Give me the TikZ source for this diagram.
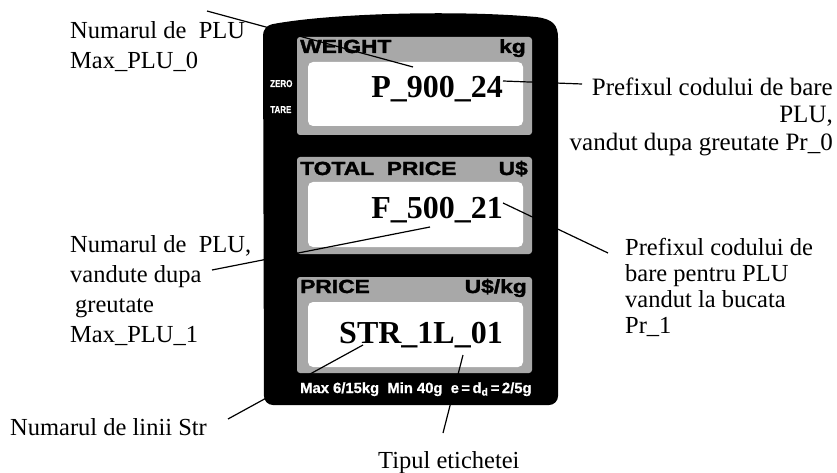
\documentclass[tikz,border=0pt]{standalone}
\usepackage{fontspec}
\setmainfont{Liberation Serif}
\newfontfamily\hdr{Liberation Sans Bold}[FakeBold=1.6]
\newfontfamily\hdrs{Liberation Sans Bold}[FakeBold=0.8]
\begin{document}
\begin{tikzpicture}[x=1pt,y=-1pt,
  lbl/.style={inner sep=0pt, font=\fontsize{24.5}{30}\selectfont},
  big/.style={inner sep=0pt, font=\fontsize{32}{36}\selectfont\bfseries},
  head/.style={inner sep=0pt, font=\hdr\fontsize{19}{20}\selectfont},
  tiny/.style={inner sep=0pt, text=white, font=\hdrs\fontsize{10}{10}\selectfont},
  conn/.style={line width=1.2pt, black},
  panel/.style={fill=black!34, rounded corners=3pt},
  screen/.style={fill=white, rounded corners=5pt}]
\useasboundingbox (0,0) rectangle (837,473);
% body
\fill[black] (263,26) .. controls (330,13) and (460,10) .. (536,17)
  .. controls (553,19) and (558,25) .. (558,38)
  [rounded corners=9pt] -- (558,405) -- (264,405) -- cycle;
% panels
\fill[panel] (297,37) rectangle (532,135);
\fill[screen] (308,62) rectangle (523,126);
\fill[panel] (297,157) rectangle (532,254);
\fill[screen] (308,182) rectangle (523,247);
\fill[panel] (297,277) rectangle (532,373);
\fill[screen] (308,302) rectangle (523,367);
% headers
\node[head, anchor=base west] (h1) at (300,53) {\scalebox{1.2}[1]{WEIGHT}};
\node[head, anchor=base east] (u1) at (526,53) {\scalebox{1.2}[1]{kg}};
\node[head, anchor=base west] (h2) at (300,175) {\scalebox{1.2}[1]{TOTAL\ \ PRICE}};
\node[head, anchor=base east] (u2) at (528,175) {\scalebox{1.2}[1]{U\$}};
\node[head, anchor=base west] (h3) at (300,293) {\scalebox{1.2}[1]{PRICE}};
\node[head, anchor=base east] (u3) at (527,293) {\scalebox{1.2}[1]{U\$/kg}};
% values
\node[big, anchor=base east] (v1) at (503,98) {P\_900\_24};
\node[big, anchor=base east] (v2) at (503,218) {F\_500\_21};
\node[big, anchor=base east] (v3) at (503,343) {STR\_1L\_01};
% labels
\node[lbl, anchor=north west, align=left] (l1) at (70,17) {\strut Numarul de\ \ PLU\\Max\_PLU\_0};
\node[lbl, anchor=north east, align=right, font=\fontsize{25}{27.5}\selectfont] (l2) at (833,75.75)
  {\strut Prefixul codului de bare\\PLU,\\vandut dupa greutate Pr\_0};
\node[lbl, anchor=north west, align=left, font=\fontsize{24.5}{26}\selectfont] (l3) at (625,236.8)
  {\strut Prefixul codului de\\bare pentru PLU\\vandut la bucata\\Pr\_1};
\node[lbl, anchor=north west, align=left] (l4) at (70,231)
  {\strut Numarul de\ \ PLU,\\vandute dupa\\\hspace{5pt}greutate\\Max\_PLU\_1};
\node[lbl, anchor=base west] (l5) at (10,435) {Numarul de linii Str};
\node[lbl, anchor=base west] (l6) at (378,468) {Tipul etichetei};
% connector ends
\coordinate (a1) at (207,11);   \coordinate (b1) at (413,67);
\coordinate (a2) at (582,84);   \coordinate (b2) at (503,81);
\coordinate (a3) at (608,253);  \coordinate (b3) at (503,203);
\coordinate (a4) at (212,270);  \coordinate (b4) at (430,227);
\coordinate (a5) at (228,419);  \coordinate (b5) at (363,345);
\coordinate (a6) at (443,433);  \coordinate (b6) at (463,355);
\draw[conn] (a1) -- (b1);
\draw[conn] (a2) -- (b2);
\draw[conn] (a3) -- (b3);
\draw[conn] (a4) -- (b4);
\draw[conn] (a5) -- (b5);
\draw[conn] (a6) -- (b6);
% white texts on the black body (drawn above the connectors)
\node[tiny, anchor=base west] (zero) at (270,87) {\scalebox{0.8}[1]{ZERO}};
\node[tiny, anchor=base west] (tare) at (270,113) {\scalebox{0.8}[1]{TARE}};
\node[inner sep=0pt, anchor=base west, text=white, font=\hdrs\fontsize{14.8}{16}\selectfont] (spec) at (300,393)
  {Max 6/15kg\ \ Min 40g\ \ e\,=\,d\textsubscript{d}\,=\,2/5g};
\end{tikzpicture}
\end{document}
